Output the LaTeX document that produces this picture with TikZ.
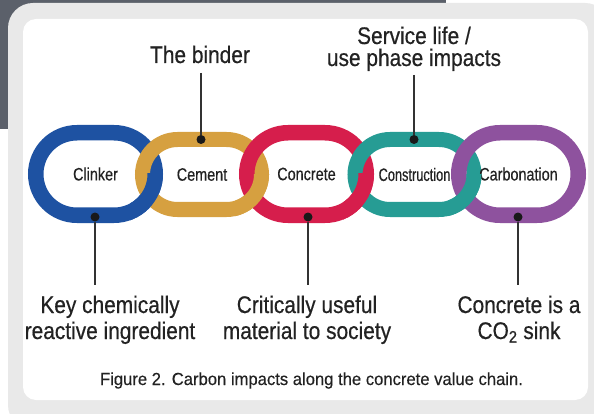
\documentclass[tikz,border=0pt]{standalone}
\usepackage{fontspec}
\setmainfont{Liberation Sans}[FakeStretch=0.87,FakeBold=0.5]
\newfontfamily\linkfont{Liberation Sans}[FakeStretch=0.80,FakeBold=0.4]
\newfontfamily\linknarrow{Liberation Sans}[FakeStretch=0.71,FakeBold=0.4]
\newfontfamily\capfont{Liberation Sans}[FakeStretch=0.95,FakeBold=0.3]
\usetikzlibrary{shapes.misc}
\definecolor{bandgray}{RGB}{91,96,106}
\definecolor{framegray}{RGB}{233,233,233}
\definecolor{cblue}{RGB}{30,82,162}
\definecolor{cgold}{RGB}{214,160,64}
\definecolor{cred}{RGB}{214,30,76}
\definecolor{cteal}{RGB}{38,156,148}
\definecolor{cpurple}{RGB}{142,82,158}
\definecolor{txt}{RGB}{34,34,34}
\definecolor{leadc}{RGB}{50,50,50}
\begin{document}
\begin{tikzpicture}[x=1pt,y=-1pt,
  biglink/.style={rounded rectangle, draw=#1, line width=15.5pt, inner sep=0pt,
    minimum width=119.5pt, minimum height=82.5pt, text=txt,
    font=\linkfont\fontsize{18}{20}\selectfont},
  smalllink/.style={rounded rectangle, draw=#1, line width=15pt, inner sep=0pt,
    minimum width=119pt, minimum height=70pt, text=txt,
    font=\linkfont\fontsize{18}{20}\selectfont},
  lab/.style={inner sep=0pt, text=txt, align=center,
    font=\fontsize{24}{22}\selectfont},
  lowlab/.style={inner sep=0pt, text=txt, align=center,
    font=\fontsize{24}{26}\selectfont},
  dot/.style={circle, fill=black!90, inner sep=0pt, minimum size=9pt},
  leader/.style={draw=leadc, line width=1.5pt}]
\useasboundingbox (0,0) rectangle (594,414);
% background
\fill[white] (0,0) rectangle (594,414);
\fill[bandgray] (0,0) rectangle (446,129);
\fill[framegray, rounded corners=25pt] (8,3) rectangle (610,430);
\fill[white, rounded corners=13pt] (23,19) rectangle (588,400);
% chain links
\node[biglink=cblue] (clinker) at (95.5,174) {Clinker};
\node[smalllink=cgold] (cement) at (202,174.5) {Cement};
\node[biglink=cred] (concrete) at (306.5,174) {Concrete};
\node[smalllink=cteal] (construction) at (414.5,174.5) {\linknarrow Construction};
\node[biglink=cpurple] (carbonation) at (518.5,174) {Carbonation};
% interlocking: left link over right link at the lower crossing
\begin{scope}
  \clip (130,174) rectangle (166,235);
  \node[biglink=cblue] (clinkerOver) at (95.5,174) {};
\end{scope}
\begin{scope}
  \clip (235,174.5) rectangle (273,235);
  \node[smalllink=cgold] (cementOver) at (202,174.5) {};
\end{scope}
\begin{scope}
  \clip (343,174) rectangle (378,235);
  \node[biglink=cred] (concreteOver) at (306.5,174) {};
\end{scope}
\begin{scope}
  \clip (448,174.5) rectangle (486,235);
  \node[smalllink=cteal] (constructionOver) at (414.5,174.5) {};
\end{scope}
% dots
\node[dot] (dCement) at (201,139.5) {};
\node[dot] (dConstr) at (414,139.5) {};
\node[dot] (dClinker) at (95,217) {};
\node[dot] (dConcrete) at (308,217) {};
\node[dot] (dCarb) at (518,217) {};
% labels (base anchor = baseline of the last line)
\node[lab, anchor=base] (binder) at (200,63) {The binder};
\node[lab, anchor=base] (service) at (414,66) {Service life /\\use phase impacts};
\node[lowlab, anchor=base] (key) at (110,339) {Key chemically\\reactive ingredient};
\node[lowlab, anchor=base] (useful) at (307,339) {Critically useful\\material to society};
\node[lowlab, anchor=base] (sink) at (519,339) {Concrete is a\\CO\textsubscript{2} sink};
% leader end points
\coordinate (tBinder) at (201,73);
\coordinate (tService) at (414,75);
\coordinate (bKey) at (95,285);
\coordinate (bUseful) at (308,285);
\coordinate (bSink) at (518,285);
\draw[leader] (tBinder) -- (dCement);
\draw[leader] (tService) -- (dConstr);
\draw[leader] (dClinker) -- (bKey);
\draw[leader] (dConcrete) -- (bUseful);
\draw[leader] (dCarb) -- (bSink);
% caption
\node[inner sep=0pt, anchor=base, text=txt, font=\capfont\fontsize{17.5}{20}\selectfont] (caption) at (311.5,385) {Figure 2. Carbon impacts along the concrete value chain.};
\end{tikzpicture}
\end{document}
